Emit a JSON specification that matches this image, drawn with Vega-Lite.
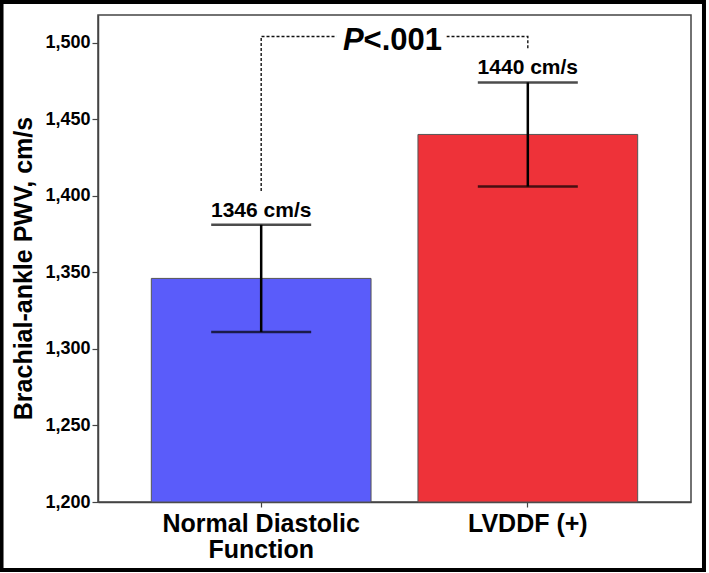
{
  "$schema": "https://vega.github.io/schema/vega-lite/v6.json",
  "autosize": {"type": "none"},
  "width": 593,
  "height": 487,
  "padding": {"left": 98, "top": 15, "right": 18, "bottom": 71},
  "background": "white",
  "config": {
    "font": "Liberation Sans",
    "view": {"stroke": "#444444", "strokeWidth": 1.5},
    "axis": {"grid": false, "domainColor": "#444444", "domainWidth": 1.5, "tickColor": "#444444", "tickWidth": 1.2, "labelColor": "black", "titleColor": "black", "labelFont": "Liberation Sans", "titleFont": "Liberation Sans"},
    "axisY": {"labelFontSize": 18, "labelFontWeight": "bold", "labelPadding": 2, "tickSize": 6, "titleFontSize": 25, "titleFontWeight": "bold", "titlePadding": 8}
  },
  "datasets": {
    "bars": [
      {"group": "Normal Diastolic Function", "mean": 1346, "lo": 1311, "hi": 1381, "label": "1346 cm/s"},
      {"group": "LVDDF (+)", "mean": 1440, "lo": 1406, "hi": 1474, "label": "1440 cm/s"}
    ],
    "bracket": [
      {"group": "Normal Diastolic Function", "y": 1403, "o": 1},
      {"group": "Normal Diastolic Function", "y": 1504, "o": 2},
      {"group": "LVDDF (+)", "y": 1504, "o": 3},
      {"group": "LVDDF (+)", "y": 1496, "o": 4}
    ],
    "ptext": [
      {"group": "Normal Diastolic Function", "y": 1495, "p": "P", "rest": "<.001"}
    ],
    "frame": [
      {"x0": -0.1627, "x1": 1.0219, "y0": 1.0267, "y1": -0.1396}
    ]
  },
  "resolve": {"scale": {"x": "independent", "y": "independent"}, "axis": {"x": "independent", "y": "independent"}},
  "layer": [
    {
      "data": {"name": "bars"},
      "encoding": {
        "x": {
          "field": "group", "type": "nominal",
          "scale": {"domain": ["Normal Diastolic Function", "LVDDF (+)"], "paddingInner": 0.176, "paddingOuter": 0.2},
          "axis": {
            "title": null, "labelAngle": 0, "labelFontSize": 25, "labelFontWeight": "bold",
            "labelLineHeight": 26, "tickSize": 5, "labelPadding": 4, "labelLimit": 400,
            "labelExpr": "datum.label == 'Normal Diastolic Function' ? ['Normal Diastolic', 'Function'] : datum.label"
          }
        }
      },
      "layer": [
        {
          "mark": {"type": "bar", "stroke": "#555555", "strokeWidth": 1},
          "encoding": {
            "y": {
              "field": "mean", "type": "quantitative",
              "scale": {"domain": [1200, 1518], "zero": false, "nice": false},
              "axis": {"title": "Brachial-ankle PWV, cm/s", "values": [1200, 1250, 1300, 1350, 1400, 1450, 1500], "format": ",.0f", "titleY": 253}
            },
            "y2": {"datum": 1200},
            "color": {
              "field": "group", "type": "nominal", "legend": null,
              "scale": {"domain": ["Normal Diastolic Function", "LVDDF (+)"], "range": ["#5a5cfa", "#ee3239"]}
            }
          }
        },
        {
          "mark": {"type": "rule", "color": "black", "strokeWidth": 2.5},
          "encoding": {
            "y": {"field": "lo", "type": "quantitative", "axis": {"title": "Brachial-ankle PWV, cm/s", "values": [1200, 1250, 1300, 1350, 1400, 1450, 1500], "format": ",.0f", "titleY": 253}},
            "y2": {"field": "hi"}
          }
        },
        {
          "mark": {"type": "tick", "color": "black", "size": 100, "thickness": 2.5, "orient": "horizontal"},
          "encoding": {"y": {"field": "hi", "type": "quantitative", "axis": {"title": "Brachial-ankle PWV, cm/s", "values": [1200, 1250, 1300, 1350, 1400, 1450, 1500], "format": ",.0f", "titleY": 253}}}
        },
        {
          "mark": {"type": "tick", "color": "black", "size": 100, "thickness": 2.5, "orient": "horizontal"},
          "encoding": {"y": {"field": "lo", "type": "quantitative", "axis": {"title": "Brachial-ankle PWV, cm/s", "values": [1200, 1250, 1300, 1350, 1400, 1450, 1500], "format": ",.0f", "titleY": 253}}}
        },
        {
          "mark": {"type": "text", "fontSize": 21, "fontWeight": "bold", "color": "black", "baseline": "alphabetic", "dy": -8},
          "encoding": {
            "y": {"field": "hi", "type": "quantitative", "axis": {"title": "Brachial-ankle PWV, cm/s", "values": [1200, 1250, 1300, 1350, 1400, 1450, 1500], "format": ",.0f", "titleY": 253}},
            "text": {"field": "label"}
          }
        },
        {
          "data": {"name": "bracket"},
          "mark": {"type": "line", "color": "#111111", "strokeWidth": 1.4, "strokeDash": [3, 2]},
          "encoding": {
            "y": {"field": "y", "type": "quantitative", "axis": {"title": "Brachial-ankle PWV, cm/s", "values": [1200, 1250, 1300, 1350, 1400, 1450, 1500], "format": ",.0f", "titleY": 253}},
            "order": {"field": "o", "type": "quantitative"}
          }
        },
        {
          "data": {"name": "ptext"},
          "mark": {"type": "text", "fontSize": 31, "fontWeight": "bold", "fontStyle": "italic", "align": "right", "baseline": "alphabetic", "fill": "white", "stroke": "white", "strokeWidth": 20, "strokeJoin": "round"},
          "encoding": {
            "x": {"field": "group", "type": "nominal", "bandPosition": 0.966},
            "y": {"field": "y", "type": "quantitative", "axis": {"title": "Brachial-ankle PWV, cm/s", "values": [1200, 1250, 1300, 1350, 1400, 1450, 1500], "format": ",.0f", "titleY": 253}},
            "text": {"field": "p"}
          }
        },
        {
          "data": {"name": "ptext"},
          "mark": {"type": "text", "fontSize": 31, "fontWeight": "bold", "align": "left", "baseline": "alphabetic", "fill": "white", "stroke": "white", "strokeWidth": 20, "strokeJoin": "round"},
          "encoding": {
            "x": {"field": "group", "type": "nominal", "bandPosition": 0.966},
            "y": {"field": "y", "type": "quantitative", "axis": {"title": "Brachial-ankle PWV, cm/s", "values": [1200, 1250, 1300, 1350, 1400, 1450, 1500], "format": ",.0f", "titleY": 253}},
            "text": {"field": "rest"}
          }
        },
        {
          "data": {"name": "ptext"},
          "mark": {"type": "text", "fontSize": 31, "fontWeight": "bold", "fontStyle": "italic", "align": "right", "baseline": "alphabetic", "color": "black"},
          "encoding": {
            "x": {"field": "group", "type": "nominal", "bandPosition": 0.966},
            "y": {"field": "y", "type": "quantitative", "axis": {"title": "Brachial-ankle PWV, cm/s", "values": [1200, 1250, 1300, 1350, 1400, 1450, 1500], "format": ",.0f", "titleY": 253}},
            "text": {"field": "p"}
          }
        },
        {
          "data": {"name": "ptext"},
          "mark": {"type": "text", "fontSize": 31, "fontWeight": "bold", "align": "left", "baseline": "alphabetic", "color": "black"},
          "encoding": {
            "x": {"field": "group", "type": "nominal", "bandPosition": 0.966},
            "y": {"field": "y", "type": "quantitative", "axis": {"title": "Brachial-ankle PWV, cm/s", "values": [1200, 1250, 1300, 1350, 1400, 1450, 1500], "format": ",.0f", "titleY": 253}},
            "text": {"field": "rest"}
          }
        }
      ]
    },
    {
      "data": {"name": "frame"},
      "mark": {"type": "rect", "fill": null, "filled": false, "stroke": "black", "strokeWidth": 4, "clip": false},
      "encoding": {
        "x": {"field": "x0", "type": "quantitative", "scale": {"domain": [0, 1], "nice": false, "zero": false}, "axis": null},
        "x2": {"field": "x1"},
        "y": {"field": "y0", "type": "quantitative", "scale": {"domain": [0, 1], "nice": false, "zero": false}, "axis": null},
        "y2": {"field": "y1"}
      }
    }
  ]
}
